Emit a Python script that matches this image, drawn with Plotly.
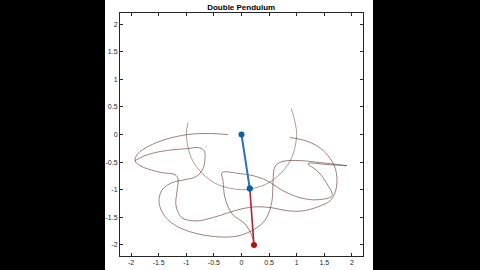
import plotly.graph_objects as go

# Trail of the lower bob (two visible passes) (data units)
trail_a_x = [0.878, 1.149, 1.385, 1.566, 1.692, 1.729, 1.692, 1.602, 1.385, 1.113, 0.842, 0.552,
             0.281, 0.009, -0.244, -0.534, -0.824, -1.077, -1.186, -1.167, -1.149, -1.204, -1.439,
             -1.656, -1.837, -1.928, -1.873, -1.692, -1.385, -0.968, -0.606, -0.244]
trail_a_y = [-0.055, -0.109, -0.218, -0.382, -0.600, -0.836, -1.055, -1.200, -1.309, -1.382, -1.382,
             -1.327, -1.309, -1.345, -1.418, -1.509, -1.564, -1.509, -1.291, -1.018, -0.800, -0.727,
             -0.691, -0.636, -0.564, -0.473, -0.345, -0.218, -0.091, 0.0, 0.018, 0.0]

trail_b_x = [-1.928, -1.747, -1.475, -1.204, -0.968, -0.787, -0.679, -0.661, -0.697, -0.824, -1.023,
             -1.258, -1.421, -1.493, -1.457, -1.330, -1.113, -0.787, -0.389, -0.063, 0.244, 0.443,
             0.552, 0.570, 0.606, 0.733, 1.059, 1.421, 1.910, 1.566, 1.204, 1.385, 1.548, 1.638,
             1.367, 1.059, 0.751, 0.462, 0.208, -0.027, -0.353, -0.335, -0.299, -0.172, 0.063,
             0.190, 0.226]
trail_b_y = [-0.473, -0.382, -0.309, -0.273, -0.255, -0.236, -0.291, -0.436, -0.618, -0.764, -0.818,
             -0.873, -0.982, -1.164, -1.364, -1.545, -1.691, -1.800, -1.855, -1.836, -1.709, -1.527,
             -1.200, -0.873, -0.582, -0.491, -0.473, -0.509, -0.564, -0.545, -0.527, -0.673, -0.891,
             -1.109, -1.182, -1.145, -1.018, -0.836, -0.745, -0.709, -0.691, -0.836, -1.145, -1.436,
             -1.618, -1.836, -2.0]

# Trail of the upper bob (arc of the first rod)
arc_x = [-0.97, -1.0, -0.98, -0.94, -0.87, -0.77, -0.64, -0.5, -0.34, -0.17, 0.0, 0.15, 0.34,
         0.5, 0.64, 0.77, 0.87, 0.94, 0.98, 1.0, 0.98, 0.94, 0.9]
arc_y = [0.22, 0.0, -0.17, -0.34, -0.5, -0.64, -0.77, -0.87, -0.94, -0.98, -1.0, -0.99, -0.94,
         -0.87, -0.77, -0.64, -0.5, -0.34, -0.17, 0.0, 0.17, 0.34, 0.47]

# Current pendulum state
pivot = [0.0, 0.0]
bob1 = [0.15, -0.98]
bob2 = [0.226, -2.0]

tick_vals = [-2, -1.5, -1, -0.5, 0, 0.5, 1, 1.5, 2]
tick_text = ["-2", "-1.5", "-1", "-0.5", "0", "0.5", "1", "1.5", "2"]

trail_color = "rgba(100,55,55,0.7)"

fig = go.Figure()
fig.add_trace(go.Scatter(x=arc_x, y=arc_y, mode="lines", line=dict(color="rgba(115,85,85,0.65)", width=0.9, shape="spline"), hoverinfo="skip"))
fig.add_trace(go.Scatter(x=trail_a_x, y=trail_a_y, mode="lines", line=dict(color=trail_color, width=0.9, shape="spline"), hoverinfo="skip"))
fig.add_trace(go.Scatter(x=trail_b_x, y=trail_b_y, mode="lines", line=dict(color=trail_color, width=0.9, shape="spline"), hoverinfo="skip"))
fig.add_trace(go.Scatter(x=[pivot[0], bob1[0]], y=[pivot[1], bob1[1]], mode="lines+markers",
                         line=dict(color="#2A74B5", width=2), marker=dict(color="#0B62A8", size=6)))
fig.add_trace(go.Scatter(x=[bob1[0], bob2[0]], y=[bob1[1], bob2[1]], mode="lines",
                         line=dict(color="#B0242A", width=1.6)))
fig.add_trace(go.Scatter(x=[bob2[0]], y=[bob2[1]], mode="markers", marker=dict(color="#B80F10", size=6)))
fig.add_trace(go.Scatter(x=[bob1[0]], y=[bob1[1]], mode="markers", marker=dict(color="#0B62A8", size=6)))

axis_common = dict(range=[-2.2, 2.2], tickvals=tick_vals, ticktext=tick_text, ticks="inside", ticklen=3,
                   tickcolor="#262626", showline=True, linecolor="#262626", linewidth=1, mirror="ticks",
                   showgrid=False, zeroline=False, automargin=False,
                   tickfont=dict(family="Liberation Sans, Arial", size=7, color="#262626"),
                   fixedrange=True)

fig.update_layout(
    width=480, height=270,
    margin=dict(l=120, r=117, t=13, b=14, autoexpand=False),
    paper_bgcolor="black", plot_bgcolor="white",
    showlegend=False,
    xaxis=dict(**axis_common),
    yaxis=dict(**axis_common),
    title=dict(text="<b>Double Pendulum</b>", x=0.5025, xanchor="center", y=1 - 7 / 270, yanchor="middle",
               yref="container", font=dict(family="Liberation Sans, Arial", size=8, color="#000000")),
    shapes=[dict(type="rect", xref="paper", yref="paper", x0=-15 / 243, x1=253 / 243, y0=-0.1, y1=1.1,
                 fillcolor="white", line=dict(width=0), layer="below")],
)

fig.write_html("out.html")
